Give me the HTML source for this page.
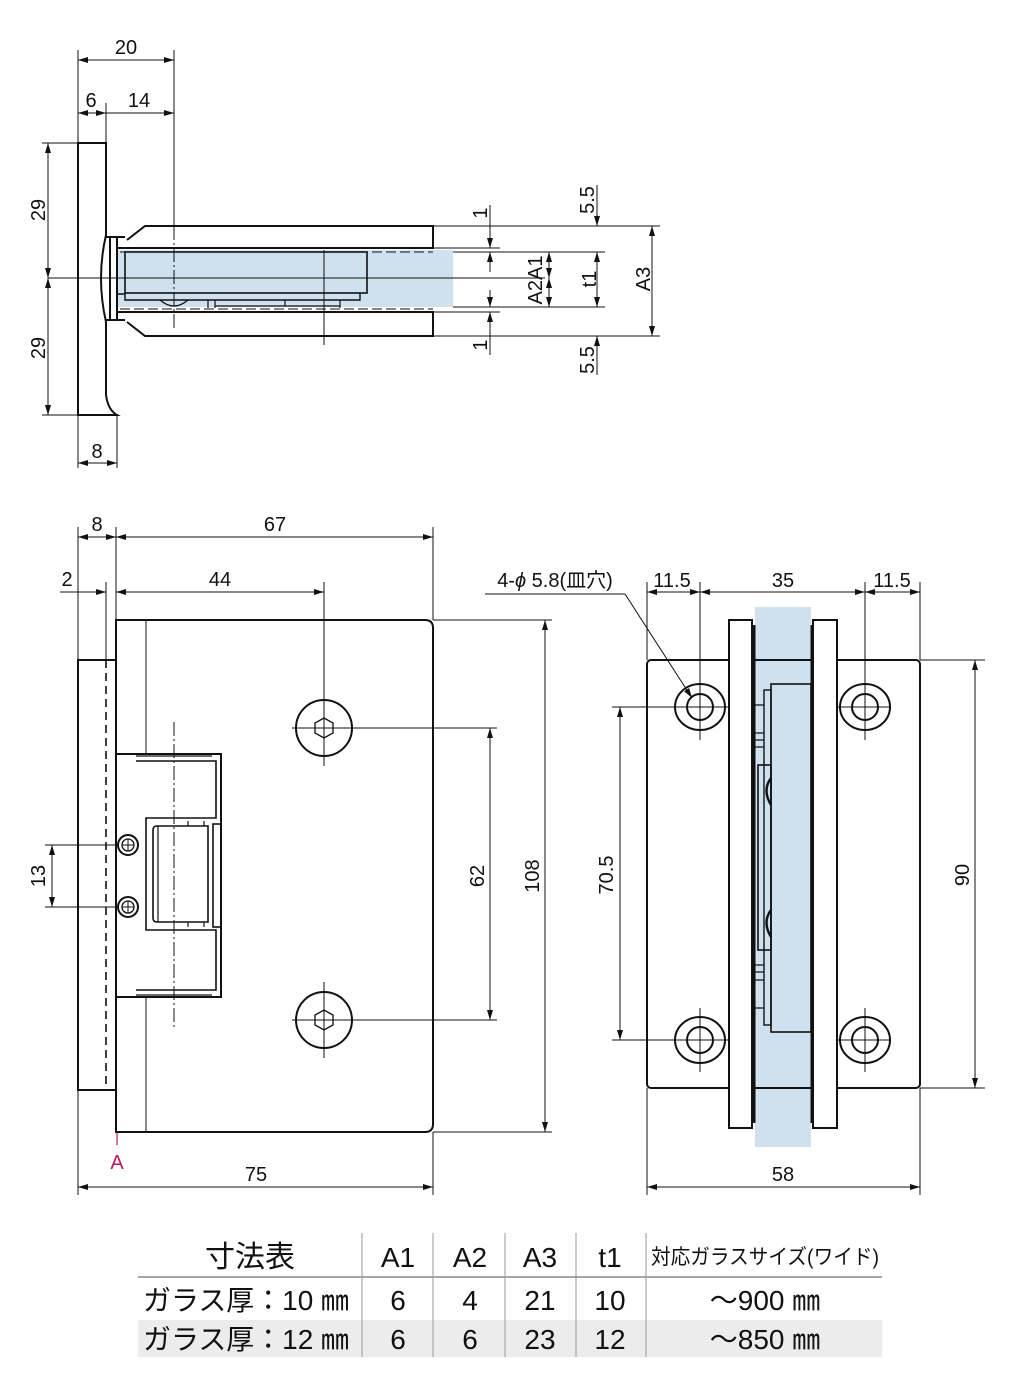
<!DOCTYPE html>
<html><head><meta charset="utf-8"><style>
html,body{margin:0;padding:0;background:#fff}
svg{display:block}
text{font-family:"Liberation Sans","Noto Sans CJK JP",sans-serif;fill:#111}
</style></head><body>
<svg width="1026" height="1397" viewBox="0 0 1026 1397" xmlns="http://www.w3.org/2000/svg">
<defs>
<marker id="a" viewBox="0 0 10 6" refX="10" refY="3" markerWidth="10" markerHeight="6" markerUnits="userSpaceOnUse" orient="auto-start-reverse"><path d="M0,0L10,3L0,6Z" fill="#111"/></marker>
</defs>
<g stroke="#111" fill="none">
<g stroke-width="1">
<line x1="78" y1="50" x2="78" y2="143"/><line x1="174" y1="50" x2="174" y2="226"/>
<line x1="106" y1="103" x2="106" y2="143"/>
<line x1="78" y1="60" x2="174" y2="60" marker-start="url(#a)" marker-end="url(#a)"/>
<line x1="78" y1="113" x2="174" y2="113" marker-end="url(#a)"/>
<line x1="78" y1="113" x2="106" y2="113" marker-start="url(#a)" marker-end="url(#a)"/>
<line x1="42" y1="143" x2="78" y2="143"/><line x1="42" y1="415" x2="78" y2="415"/>
<line x1="48" y1="143" x2="48" y2="278" marker-start="url(#a)" marker-end="url(#a)"/>
<line x1="48" y1="278" x2="48" y2="415" marker-start="url(#a)" marker-end="url(#a)"/>
<line x1="78" y1="415" x2="78" y2="468"/><line x1="117" y1="415" x2="117" y2="468"/>
<line x1="78" y1="463" x2="117" y2="463" marker-start="url(#a)" marker-end="url(#a)"/>
</g>
<rect x="118" y="250" width="335" height="57" fill="#cfe0ee" stroke="none"/>
<g stroke-width="2">
<path d="M78,143 L106,143 L106,235 Q96,278 106,322 L106,395 Q108,410 117,415 L78,415 Z"/>
<path d="M106,237 L125,237 M106,320 L125,320 M110,237 L110,320"/>
<path d="M127,240 L145,226 L433,226 L433,248 L118,248 M117,238 L117,320"/>
<path d="M127,322 L145,336 L433,336 L433,312 L118,312"/>
<rect x="125" y="252" width="242" height="41" stroke-width="1.6"/>
<path d="M117,294 L125,294 M125,293 L125,300 L360,300 L360,293" stroke-width="1.4"/>
<path d="M208,300 L208,308 M215,300 L215,308 M215,306 L340,306 M285,300 L285,306 M340,300 L340,308" stroke-width="1.2"/>
<path d="M160,300 Q174,312 188,300" stroke-width="1.2"/>
</g>
<g stroke-width="1">
<line x1="174" y1="226" x2="174" y2="330" stroke-dasharray="14,3,2,3"/>
<line x1="324" y1="250" x2="324" y2="345"/>
<line x1="48" y1="278" x2="545" y2="278"/>
<line x1="120" y1="252" x2="433" y2="252" stroke-dasharray="10,4"/>
<line x1="120" y1="309" x2="433" y2="309" stroke-dasharray="10,4"/>
<line x1="433" y1="226" x2="660" y2="226"/><line x1="433" y1="336" x2="660" y2="336"/>
<line x1="433" y1="248" x2="500" y2="248"/><line x1="433" y1="312" x2="500" y2="312"/>
<line x1="453" y1="252" x2="605" y2="252"/><line x1="453" y1="307" x2="605" y2="307"/>
<line x1="490" y1="205" x2="490" y2="248" marker-end="url(#a)"/>
<line x1="490" y1="272" x2="490" y2="252" marker-end="url(#a)"/>
<line x1="490" y1="290" x2="490" y2="307" marker-end="url(#a)"/>
<line x1="490" y1="355" x2="490" y2="312" marker-end="url(#a)"/>
<line x1="549" y1="252" x2="549" y2="278" marker-start="url(#a)" marker-end="url(#a)"/>
<line x1="549" y1="278" x2="549" y2="307" marker-start="url(#a)" marker-end="url(#a)"/>
<line x1="597" y1="185" x2="597" y2="226" marker-end="url(#a)"/>
<line x1="597" y1="252" x2="597" y2="307" marker-start="url(#a)" marker-end="url(#a)"/>
<line x1="597" y1="375" x2="597" y2="336" marker-end="url(#a)"/>
<line x1="652" y1="226" x2="652" y2="336" marker-start="url(#a)" marker-end="url(#a)"/>
</g>

<g stroke-width="1">
<line x1="78" y1="527" x2="78" y2="660"/><line x1="116" y1="527" x2="116" y2="620"/><line x1="433" y1="527" x2="433" y2="620"/>
<line x1="78" y1="537" x2="116" y2="537" marker-start="url(#a)" marker-end="url(#a)"/>
<line x1="116" y1="537" x2="433" y2="537" marker-start="url(#a)" marker-end="url(#a)"/>
<line x1="106" y1="582" x2="106" y2="660"/><line x1="324" y1="582" x2="324" y2="700"/>
<line x1="60" y1="592" x2="106" y2="592" marker-end="url(#a)"/>
<line x1="116" y1="592" x2="324" y2="592" marker-start="url(#a)" marker-end="url(#a)"/>
<line x1="433" y1="620" x2="552" y2="620"/><line x1="433" y1="1132" x2="552" y2="1132"/>
<line x1="545" y1="620" x2="545" y2="1132" marker-start="url(#a)" marker-end="url(#a)"/>
<line x1="352" y1="728" x2="497" y2="728"/><line x1="352" y1="1020" x2="497" y2="1020"/>
<line x1="490" y1="728" x2="490" y2="1020" marker-start="url(#a)" marker-end="url(#a)"/>
<line x1="45" y1="845" x2="118" y2="845"/><line x1="45" y1="907" x2="118" y2="907"/>
<line x1="52" y1="845" x2="52" y2="907" marker-start="url(#a)" marker-end="url(#a)"/>
<line x1="78" y1="1090" x2="78" y2="1195"/><line x1="433" y1="1132" x2="433" y2="1195"/>
<line x1="78" y1="1187" x2="433" y2="1187" marker-start="url(#a)" marker-end="url(#a)"/>
<line x1="174" y1="722" x2="174" y2="1028" stroke-dasharray="14,3,2,3"/>
<line x1="146" y1="620" x2="146" y2="755"/><line x1="146" y1="997" x2="146" y2="1132"/>
<line x1="324" y1="690" x2="324" y2="766"/><line x1="292" y1="728" x2="356" y2="728"/>
<line x1="324" y1="982" x2="324" y2="1058"/><line x1="292" y1="1020" x2="356" y2="1020"/>
</g>
<line x1="117" y1="1132" x2="117" y2="1145" stroke="#c2185b" stroke-width="1.2"/>
<g stroke-width="2">
<rect x="78" y="660" width="38" height="430"/>
<path d="M116,620 L425,620 Q433,620 433,628 L433,1124 Q433,1132 425,1132 L116,1132 Z"/>
<line x1="106" y1="660" x2="106" y2="1090" stroke-width="1.6" stroke-dasharray="8,5"/>
<path d="M117,754 L221,754 L221,997 L117,997"/>
<path d="M136,761 L216,761 L216,818 L146,818 L146,930 L216,930 L216,990 L136,990" stroke-width="1.6"/>
<path d="M136,756 L212,756 M136,995 L212,995" stroke-width="1.2"/>
<path d="M157,826 L208,826 L208,922 L157,922 Q153,922 153,918 L153,830 Q153,826 157,826 Z" stroke-width="1.6"/>
<path d="M158,826 L158,922 M188,821 L188,826 M188,922 L188,927 M204,821 L204,826 M204,922 L204,927" stroke-width="1.2"/>
<rect x="213" y="824" width="8" height="103" stroke-width="1.6"/>
<circle cx="128" cy="845" r="10"/><circle cx="128" cy="907" r="10"/>
<circle cx="324" cy="728" r="28"/><circle cx="324" cy="1020" r="28"/>
</g>
<g stroke-width="1.3">
<circle cx="128" cy="845" r="6"/><circle cx="128" cy="907" r="6"/>
<path d="M324,718 L333,723 L333,733 L324,738 L315,733 L315,723 Z"/>
<path d="M324,1010 L333,1015 L333,1025 L324,1030 L315,1025 L315,1015 Z"/>
<path d="M122,845 H134 M128,839 V851 M122,907 H134 M128,901 V913" stroke-width="1"/>
</g>

<g stroke-width="1">
<line x1="647" y1="582" x2="647" y2="660"/><line x1="920" y1="582" x2="920" y2="660"/>
<line x1="700" y1="582" x2="700" y2="740"/><line x1="865" y1="582" x2="865" y2="740"/>
<line x1="647" y1="592" x2="700" y2="592" marker-start="url(#a)" marker-end="url(#a)"/>
<line x1="700" y1="592" x2="865" y2="592" marker-start="url(#a)" marker-end="url(#a)"/>
<line x1="865" y1="592" x2="920" y2="592" marker-start="url(#a)" marker-end="url(#a)"/>
<line x1="485" y1="594" x2="625" y2="594"/><line x1="625" y1="594" x2="692" y2="698" marker-end="url(#a)"/>
<line x1="612" y1="707" x2="730" y2="707"/><line x1="612" y1="1040" x2="730" y2="1040"/>
<line x1="835" y1="707" x2="890" y2="707"/><line x1="835" y1="1040" x2="890" y2="1040"/>
<line x1="700" y1="1008" x2="700" y2="1072"/><line x1="865" y1="1008" x2="865" y2="1072"/>
<line x1="620" y1="707" x2="620" y2="1040" marker-start="url(#a)" marker-end="url(#a)"/>
<line x1="920" y1="660" x2="985" y2="660"/><line x1="920" y1="1088" x2="985" y2="1088"/>
<line x1="975" y1="660" x2="975" y2="1088" marker-start="url(#a)" marker-end="url(#a)"/>
<line x1="647" y1="1088" x2="647" y2="1195"/><line x1="920" y1="1088" x2="920" y2="1195"/>
<line x1="647" y1="1187" x2="920" y2="1187" marker-start="url(#a)" marker-end="url(#a)"/>
</g>
<rect x="755" y="607" width="56" height="540" fill="#cfe0ee" stroke="none"/>
<g stroke-width="2">
<rect x="647" y="660" width="273" height="428" rx="4"/>
<rect x="729" y="620" width="23" height="508" fill="#fff"/>
<rect x="813" y="620" width="24" height="508" fill="#fff"/>
<line x1="754" y1="625" x2="754" y2="1123" stroke-width="3"/>
<line x1="812" y1="625" x2="812" y2="1123" stroke-width="3"/>
<line x1="755" y1="660" x2="811" y2="660"/><line x1="755" y1="1088" x2="811" y2="1088"/>
<rect x="771" y="684" width="40" height="348" stroke-width="1.6"/>
<rect x="764" y="690" width="7" height="335" stroke-width="1.4"/>
<rect x="758" y="765" width="13" height="185" stroke-width="1.6"/>
<path d="M771,778 Q762,790 771,805 M771,910 Q762,922 771,937" stroke-width="2.4"/>
<path d="M755,705 H764 M755,733 H764 M755,740 H764 M755,747 H764 M755,965 H764 M755,972 H764 M755,980 H764 M755,1008 H764" stroke-width="1.2"/>
<ellipse cx="700" cy="707" rx="25" ry="23"/><circle cx="700" cy="707" r="13"/>
<ellipse cx="865" cy="707" rx="25" ry="23"/><circle cx="865" cy="707" r="13"/>
<ellipse cx="700" cy="1040" rx="25" ry="23"/><circle cx="700" cy="1040" r="13"/>
<ellipse cx="865" cy="1040" rx="25" ry="23"/><circle cx="865" cy="1040" r="13"/>
</g>

<rect x="138" y="1320" width="744" height="37" fill="#ececec" stroke="none"/>
<line x1="138" y1="1277" x2="882" y2="1277" stroke="#888" stroke-width="1.5"/>
<g stroke="#999" stroke-width="1">
<line x1="362" y1="1233" x2="362" y2="1357"/><line x1="433" y1="1233" x2="433" y2="1357"/>
<line x1="505" y1="1233" x2="505" y2="1357"/><line x1="576" y1="1233" x2="576" y2="1357"/>
<line x1="646" y1="1233" x2="646" y2="1357"/>
</g>
</g>

<g font-size="20" text-anchor="middle">
<text x="126" y="54">20</text><text x="91" y="107">6</text><text x="139" y="107">14</text>
<text x="97" y="458">8</text>
<text transform="translate(45,210) rotate(-90)">29</text>
<text transform="translate(45,348) rotate(-90)">29</text>
<text transform="translate(487,213) rotate(-90)">1</text>
<text transform="translate(487,345) rotate(-90)">1</text>
<text transform="translate(594,200) rotate(-90)">5.5</text>
<text transform="translate(594,360) rotate(-90)">5.5</text>
<text transform="translate(542,280) rotate(-90)">A2A1</text>
<text transform="translate(596,279) rotate(-90)">t1</text>
<text transform="translate(650,279) rotate(-90)">A3</text>
<text x="97" y="531">8</text><text x="275" y="531">67</text>
<text x="67" y="586">2</text><text x="220" y="586">44</text>
<text transform="translate(45,876) rotate(-90)">13</text>
<text transform="translate(484,876) rotate(-90)">62</text>
<text transform="translate(539,876) rotate(-90)">108</text>
<text x="117" y="1169" style="fill:#c2185b">A</text>
<text x="256" y="1181">75</text>
<text x="555" y="587">4-<tspan font-style="italic">ϕ</tspan> 5.8(皿穴)</text>
<text x="672" y="587">11.5</text><text x="783" y="587">35</text><text x="892" y="587">11.5</text>
<text transform="translate(613,875) rotate(-90)">70.5</text>
<text transform="translate(969,875) rotate(-90)">90</text>
<text x="783" y="1181">58</text>
</g>
<g font-size="28" text-anchor="middle">
<text x="250" y="1267" font-size="30">寸法表</text>
<text x="398" y="1267">A1</text><text x="470" y="1267">A2</text><text x="540" y="1267">A3</text><text x="610" y="1267">t1</text>
<text x="765" y="1264" font-size="21" textLength="228" lengthAdjust="spacingAndGlyphs">対応ガラスサイズ(ワイド)</text>
<text x="246" y="1310" textLength="206" lengthAdjust="spacingAndGlyphs">ガラス厚：10 ㎜</text>
<text x="398" y="1310">6</text><text x="470" y="1310">4</text><text x="540" y="1310">21</text><text x="610" y="1310">10</text>
<text x="765" y="1310">～900 ㎜</text>
<text x="246" y="1349" textLength="206" lengthAdjust="spacingAndGlyphs">ガラス厚：12 ㎜</text>
<text x="398" y="1349">6</text><text x="470" y="1349">6</text><text x="540" y="1349">23</text><text x="610" y="1349">12</text>
<text x="765" y="1349">～850 ㎜</text>
</g>
</svg>
</body></html>
